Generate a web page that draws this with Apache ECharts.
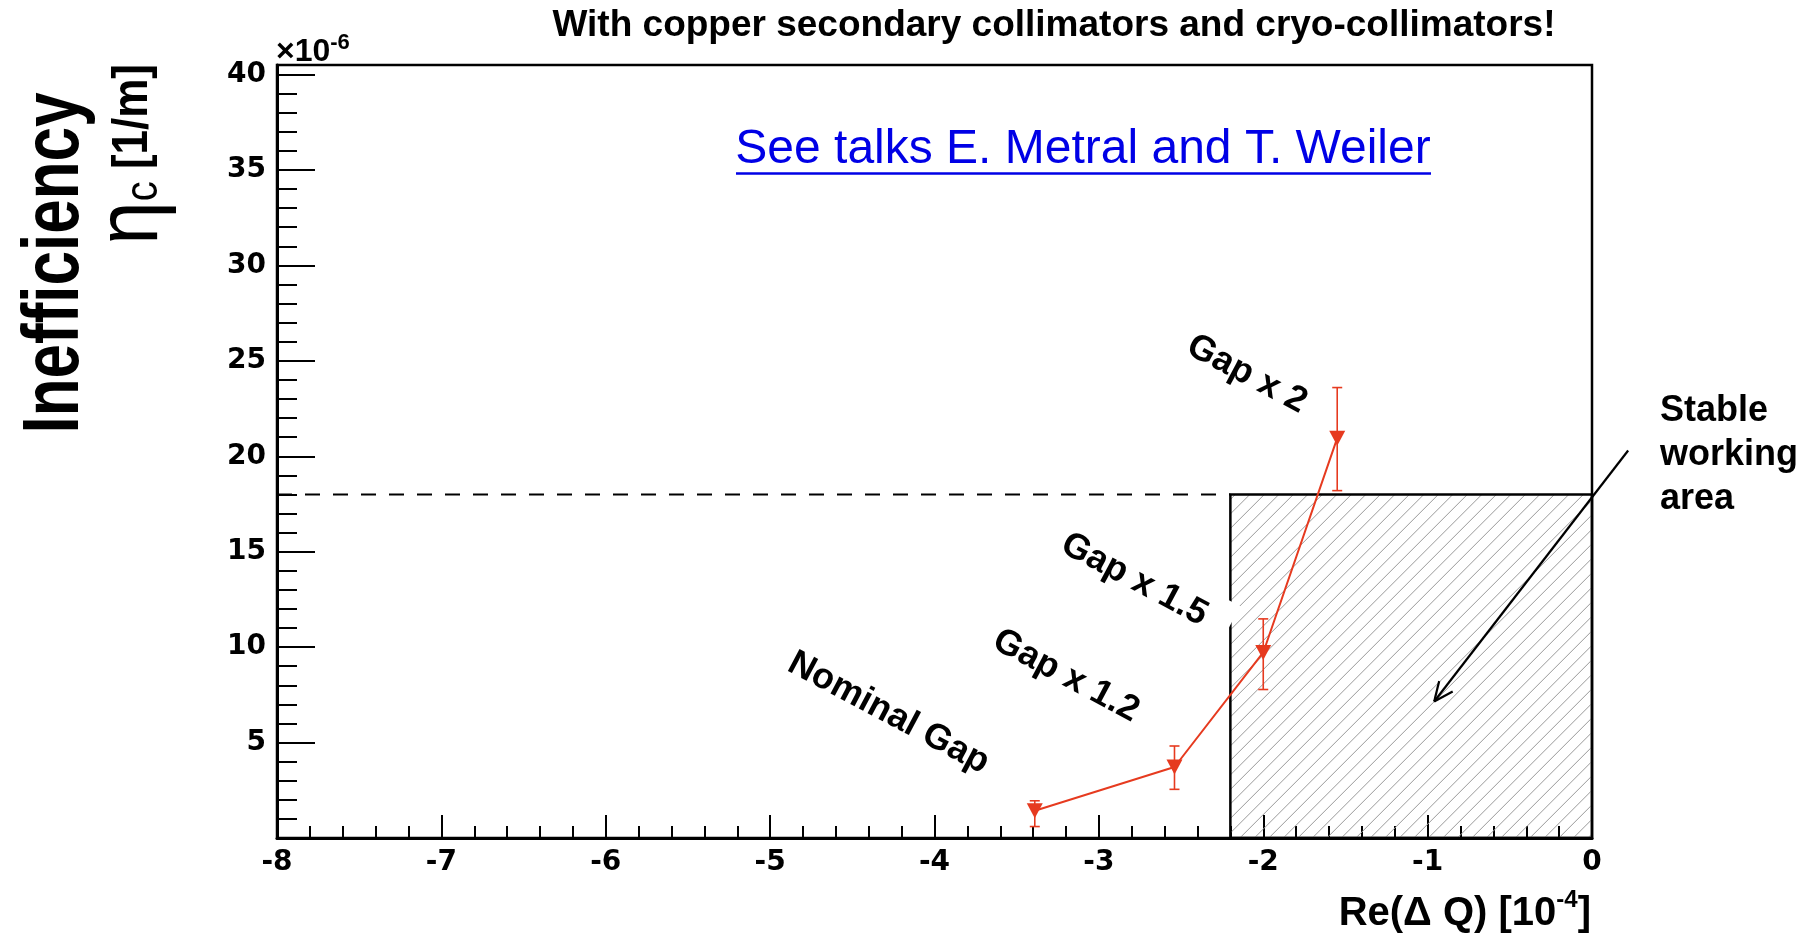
<!DOCTYPE html>
<html>
<head>
<meta charset="utf-8">
<script src="https://cdn.jsdelivr.net/npm/echarts@6/dist/echarts.min.js"></script>
<style>
html,body{margin:0;padding:0;background:#fff;}
#c{width:1817px;height:936px;}
</style>
</head>
<body>
<div id="c"></div>
<script>
// ---------------- data ----------------
const gapLabels    = ['Nominal Gap', 'Gap x 1.2', 'Gap x 1.5', 'Gap x 2'];
const reDeltaQ     = [-3.39, -2.54, -2.0, -1.55];     // Re(ΔQ) [1e-4]
const inefficiency = [1.43, 3.72, 9.72, 20.95];       // eta_c [1e-6 /m]
const errLow       = [0.6, 2.55, 7.78, 18.2];
const errHigh      = [1.95, 4.82, 11.48, 23.6];
const xRange       = [-8, 0];
const yRange       = [0, 40.5];
const stableBoxX   = [-2.2, 0];
const stableBoxY   = [0, 18];
const thresholdY   = 18;
const arrowFrom    = [0.22, 20.3];
const arrowTo      = [-0.96, 7.15];
const gapLabelPos  = [[-4.28, 6.55], [-3.20, 8.5], [-2.73, 13.3], [-2.10, 24.3]];

// ---------------- chart ----------------
const FONT = '"Liberation Sans", Arial, Helvetica, sans-serif';
const TICKFONT = '"DejaVu Sans", "Liberation Sans", sans-serif';
const RED = '#e63a1f';
const chart = echarts.init(document.getElementById('c'), null, {renderer: 'canvas'});

const boxData = [[stableBoxX[0], stableBoxY[0], stableBoxX[1], stableBoxY[1]]];
const dashData = [[xRange[0], thresholdY, stableBoxX[0], thresholdY]];
const errData = reDeltaQ.map((x, i) => [x, errLow[i], errHigh[i]]);
const lineData = reDeltaQ.map((x, i) => [x, inefficiency[i]]);
const arrowData = [[arrowFrom[0], arrowFrom[1], arrowTo[0], arrowTo[1]]];
const labelData = gapLabelPos.map((p, i) => [p[0], p[1], i]);

const option = {
  animation: false,
  backgroundColor: '#ffffff',
  grid: {
    left: 277, right: 225, top: 65, bottom: 98,
    show: true, borderColor: '#000', borderWidth: 2.5,
    backgroundColor: 'rgba(0,0,0,0)',
    containLabel: false, outerBoundsMode: 'none'
  },
  xAxis: {
    type: 'value', min: xRange[0], max: xRange[1], interval: 1, position: 'bottom',
    axisLine: {show: true, onZero: false, lineStyle: {color: '#000', width: 3}},
    axisTick: {show: true, inside: true, length: 23, lineStyle: {color: '#000', width: 2}},
    minorTick: {show: true, splitNumber: 5, length: 12, lineStyle: {color: '#000', width: 2}},
    splitLine: {show: false}, minorSplitLine: {show: false},
    axisLabel: {color: '#000', fontFamily: TICKFONT, fontWeight: 'bold', fontSize: 28, margin: 11}
  },
  yAxis: [
    {
      type: 'value', min: yRange[0], max: yRange[1], interval: 5, position: 'left',
      axisLine: {show: true, onZero: false, lineStyle: {color: '#000', width: 3}},
      axisTick: {show: true, inside: true, length: 38, lineStyle: {color: '#000', width: 2}},
      splitLine: {show: false},
      axisLabel: {
        color: '#000', fontFamily: TICKFONT, fontWeight: 'bold', fontSize: 28, margin: 11,
        formatter: v => (v > 0 && Math.abs(v % 5) < 1e-9) ? String(v) : ''
      }
    },
    {
      type: 'value', min: yRange[0], max: yRange[1], interval: 1, position: 'left',
      axisLine: {show: false, onZero: false},
      axisTick: {show: true, inside: true, length: 20, lineStyle: {color: '#000', width: 2}},
      axisLabel: {show: false}, splitLine: {show: false}
    }
  ],
  series: [
    { // hatched stable area
      type: 'custom', name: 'stable', z: 1, silent: true, clip: false,
      data: boxData, encode: {x: [0, 2], y: [1, 3]},
      renderItem: (params, api) => {
        const p0 = api.coord([api.value(0), api.value(1)]);
        const p1 = api.coord([api.value(2), api.value(3)]);
        const L = Math.min(p0[0], p1[0]), R = Math.max(p0[0], p1[0]);
        const T = Math.min(p0[1], p1[1]), B = Math.max(p0[1], p1[1]);
        const s = 14.5;
        const children = [];
        for (let c = L + T + 5; c < R + B; c += s) {
          const xa = Math.max(L, c - B), xb = Math.min(R, c - T);
          if (xb - xa < 0.5) continue;
          children.push({type: 'line', shape: {x1: xa, y1: c - xa, x2: xb, y2: c - xb},
            style: {stroke: '#9a9a9a', lineWidth: 1}});
        }
        children.push({type: 'rect', shape: {x: L, y: T, width: R - L, height: B - T},
          style: {fill: 'none', stroke: '#000', lineWidth: 2.5}});
        return {type: 'group', children};
      }
    },
    { // dashed threshold
      type: 'custom', name: 'threshold', z: 2, silent: true, clip: false,
      data: dashData, encode: {x: [0, 2], y: [1, 3]},
      renderItem: (params, api) => {
        const a = api.coord([api.value(0), api.value(1)]);
        const b = api.coord([api.value(2), api.value(3)]);
        return {type: 'line', shape: {x1: a[0], y1: a[1], x2: b[0], y2: b[1]},
          style: {stroke: '#000', lineWidth: 2, lineDash: [15, 13]}};
      }
    },
    { // error bars
      type: 'custom', name: 'errors', z: 3, silent: true, clip: false,
      data: errData, encode: {x: 0, y: [1, 2]},
      renderItem: (params, api) => {
        const x = api.value(0);
        const lo = api.coord([x, api.value(1)]);
        const hi = api.coord([x, api.value(2)]);
        const w = 5;
        const st = {stroke: RED, lineWidth: 1.6};
        return {type: 'group', children: [
          {type: 'line', shape: {x1: lo[0], y1: lo[1], x2: hi[0], y2: hi[1]}, style: st},
          {type: 'line', shape: {x1: lo[0] - w, y1: lo[1], x2: lo[0] + w, y2: lo[1]}, style: st},
          {type: 'line', shape: {x1: hi[0] - w, y1: hi[1], x2: hi[0] + w, y2: hi[1]}, style: st}
        ]};
      }
    },
    { // measured inefficiency
      type: 'line', name: 'inefficiency', z: 4, yAxisIndex: 0,
      data: lineData,
      symbol: 'triangle', symbolRotate: 180, symbolSize: [16, 15],
      lineStyle: {color: RED, width: 2},
      itemStyle: {color: RED},
      silent: true
    },
    { // arrow
      type: 'custom', name: 'arrow', z: 5, silent: true, clip: false,
      data: arrowData, encode: {x: [0, 2], y: [1, 3]},
      renderItem: (params, api) => {
        const a = api.coord([api.value(0), api.value(1)]);
        const b = api.coord([api.value(2), api.value(3)]);
        const ang = Math.atan2(a[1] - b[1], a[0] - b[0]);
        const hl = 21, ha = 24 * Math.PI / 180;
        const st = {stroke: '#000', lineWidth: 2.2};
        return {type: 'group', children: [
          {type: 'line', shape: {x1: a[0], y1: a[1], x2: b[0], y2: b[1]}, style: st},
          {type: 'line', shape: {x1: b[0], y1: b[1], x2: b[0] + hl * Math.cos(ang + ha), y2: b[1] + hl * Math.sin(ang + ha)}, style: st},
          {type: 'line', shape: {x1: b[0], y1: b[1], x2: b[0] + hl * Math.cos(ang - ha), y2: b[1] + hl * Math.sin(ang - ha)}, style: st}
        ]};
      }
    },
    { // gap annotations
      type: 'custom', name: 'labels', z: 6, silent: true, clip: false,
      data: labelData, encode: {x: 0, y: 1},
      renderItem: (params, api) => {
        const p = api.coord([api.value(0), api.value(1)]);
        const i = api.value(2);
        const style = {
          text: gapLabels[i], font: 'bold 36px ' + FONT, fill: '#000',
          align: 'center', verticalAlign: 'middle', textAlign: 'center', textVerticalAlign: 'middle'
        };
        if (i === 2) { style.backgroundColor = '#fff'; style.padding = [12, 26, 4, 6]; }
        return {type: 'text', x: p[0], y: p[1], rotation: -28 * Math.PI / 180, style};
      }
    }
  ],
  graphic: [
    {type: 'text', x: 1054, y: 26, z: 10, silent: true,
      style: {text: 'With copper secondary collimators and cryo-collimators!', font: 'bold 37px ' + FONT, fill: '#000',
        align: 'center', verticalAlign: 'middle', textAlign: 'center', textVerticalAlign: 'middle'}},
    {type: 'text', x: 1083, y: 150, z: 10, silent: true,
      style: {text: 'See talks E. Metral and T. Weiler', font: '48px ' + FONT, fill: '#0000e6',
        align: 'center', verticalAlign: 'middle', textAlign: 'center', textVerticalAlign: 'middle'}},
    {type: 'line', z: 10, silent: true, shape: {x1: 736, y1: 173.5, x2: 1431, y2: 173.5},
      style: {stroke: '#0000e6', lineWidth: 2.5}},
    {type: 'text', x: 276, y: 50, z: 10, silent: true,
      style: {text: '{a|×10}{s|-6}', align: 'left', verticalAlign: 'middle', textAlign: 'left', textVerticalAlign: 'middle',
        rich: {a: {font: 'bold 32px ' + FONT, fill: '#000', lineHeight: 36, verticalAlign: 'bottom'},
               s: {font: 'bold 22px ' + FONT, fill: '#000', lineHeight: 18, verticalAlign: 'top'}}}},
    {type: 'text', x: 56, y: 263, z: 10, silent: true, rotation: Math.PI / 2, scaleY: 1.3,
      style: {text: 'Inefficiency', font: 'bold 62px ' + FONT, fill: '#000',
        align: 'center', verticalAlign: 'middle', textAlign: 'center', textVerticalAlign: 'middle'}},
    {type: 'text', x: 133, y: 64, z: 10, silent: true, rotation: Math.PI / 2, scaleY: 1.15,
      style: {text: '{e|η}{c|c}{b| [1/m]}', align: 'right', verticalAlign: 'middle', textAlign: 'right', textVerticalAlign: 'middle',
        rich: {e: {font: '78px ' + FONT, fill: '#000', lineHeight: 60, verticalAlign: 'middle'},
               c: {font: '40px ' + FONT, fill: '#000', lineHeight: 36, verticalAlign: 'bottom'},
               b: {font: 'bold 44px ' + FONT, fill: '#000', lineHeight: 60, verticalAlign: 'middle'}}}},
    {type: 'text', x: 1591, y: 911, z: 10, silent: true,
      style: {text: '{a|Re(Δ Q) [10}{s|-4}{a|]}', align: 'right', verticalAlign: 'middle', textAlign: 'right', textVerticalAlign: 'middle',
        rich: {a: {font: 'bold 40px ' + FONT, fill: '#000', lineHeight: 46, verticalAlign: 'bottom'},
               s: {font: 'bold 24px ' + FONT, fill: '#000', lineHeight: 24, verticalAlign: 'top'}}}},
    {type: 'text', x: 1660, y: 455, z: 10, silent: true,
      style: {text: 'Stable\nworking\narea', font: 'bold 36px ' + FONT, fill: '#000', lineHeight: 44,
        align: 'left', verticalAlign: 'middle', textAlign: 'left', textVerticalAlign: 'middle'}}
  ]
};
chart.setOption(option);
</script>
</body>
</html>
